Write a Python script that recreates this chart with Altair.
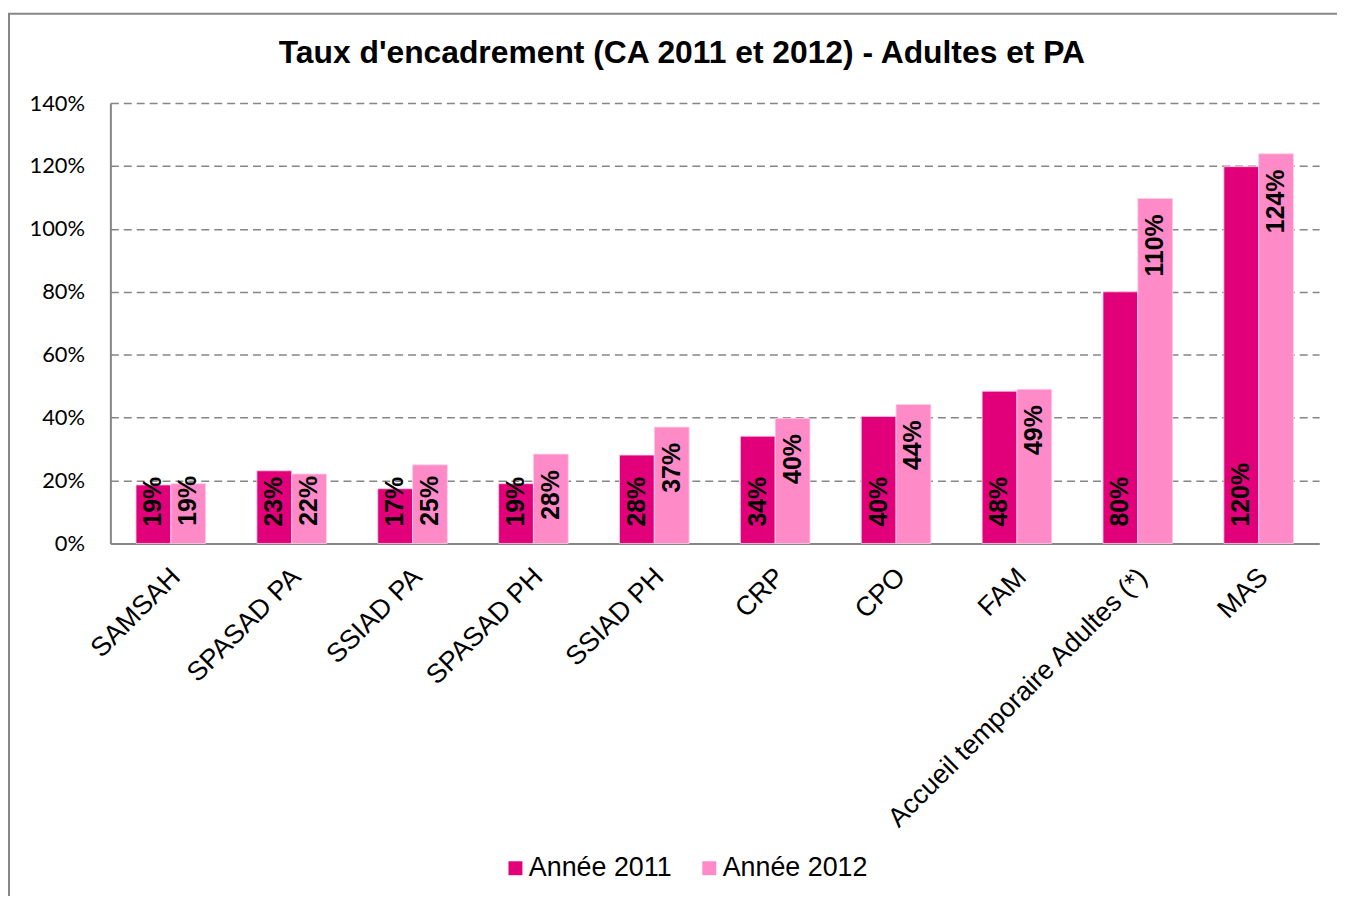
import altair as alt
import pandas as pd

categories = ["SAMSAH", "SPASAD PA", "SSIAD PA", "SPASAD PH", "SSIAD PH",
              "CRP", "CPO", "FAM", "Accueil temporaire Adultes (*)", "MAS"]
values_2011 = [0.186, 0.231, 0.174, 0.190, 0.281, 0.341, 0.404, 0.484, 0.800, 1.198]
values_2012 = [0.190, 0.221, 0.250, 0.284, 0.370, 0.398, 0.442, 0.490, 1.097, 1.239]
series = ["Année 2011", "Année 2012"]
colors = ["#E2007A", "#FF8AC8"]
y_ticks = [0, 0.2, 0.4, 0.6, 0.8, 1.0, 1.2, 1.4]
title_text = "Taux d'encadrement (CA 2011 et 2012) - Adultes et PA"

rows = []
for c, v in zip(categories, values_2011):
    rows.append({"cat": c, "serie": series[0], "value": v})
for c, v in zip(categories, values_2012):
    rows.append({"cat": c, "serie": series[1], "value": v})
df = pd.DataFrame(rows)

W, H = 1216, 443
GREY = "#868686"

x_enc = alt.X("cat:N", sort=categories,
              scale=alt.Scale(paddingInner=0.424, paddingOuter=0.212),
              axis=alt.Axis(title=None, labelAngle=-45, labelFont="Liberation Sans",
                            labelFontSize=27, labelColor="black", labelLimit=1000,
                            labelPadding=20, labelOffset=-4, ticks=False, domain=True,
                            domainColor=GREY, domainWidth=2, grid=False))
xo_enc = alt.XOffset("serie:N", sort=series, scale=alt.Scale(paddingInner=0, paddingOuter=0))
y_scale = alt.Scale(domain=[0, 1.4], nice=False, zero=True)

base = alt.Chart(df)

bars = base.mark_bar(stroke="#FFD0E8", strokeWidth=0.8).encode(
    x=x_enc,
    xOffset=xo_enc,
    y=alt.Y("value:Q", scale=y_scale,
            axis=alt.Axis(title=None, values=y_ticks, format=".0%", grid=True,
                          gridDash=[8, 5], gridColor=GREY, gridWidth=1.5,
                          ticks=False, domain=True, domainColor=GREY, domainWidth=2,
                          labelFont="Lato", labelFontSize=22, labelColor="black",
                          labelPadding=26)),
    color=alt.Color("serie:N", scale=alt.Scale(domain=series, range=colors),
                    legend=alt.Legend(title=None, orient="none", legendX=394, legendY=756,
                                      direction="horizontal", symbolType="square",
                                      symbolSize=196, symbolStrokeWidth=0,
                                      labelFont="Liberation Sans", labelFontSize=27,
                                      labelColor="black", labelOffset=0,
                                      columnPadding=24, padding=0, labelLimit=400)),
)

lab_font = dict(font="Liberation Sans", fontWeight="bold", fontSize=25, color="black",
                angle=270, baseline="middle")

labels_2011 = base.transform_filter(
    alt.datum.serie == series[0]
).mark_text(align="left", dx=17, **lab_font).encode(
    x=alt.X("cat:N", sort=categories),
    xOffset=alt.XOffset("serie:N", sort=series),
    y=alt.datum(0),
    text=alt.Text("value:Q", format=".0%"),
)

labels_2012 = base.transform_filter(
    alt.datum.serie == series[1]
).transform_calculate(
    ypos="max(datum.value, 0.265)"
).mark_text(align="right", dx=-16, **lab_font).encode(
    x=alt.X("cat:N", sort=categories),
    xOffset=alt.XOffset("serie:N", sort=series),
    y=alt.Y("ypos:Q"),
    text=alt.Text("value:Q", format=".0%"),
)

border = alt.Chart(alt.Data(values=[{"a": 1}])).mark_rect(
    fill="transparent", stroke=GREY, strokeWidth=2
).encode(
    x=alt.value(-102), x2=alt.value(1400), y=alt.value(-90), y2=alt.value(1000)
)

chart = alt.layer(border, bars, labels_2011, labels_2012).properties(
    width=W, height=H,
    title=alt.TitleParams(title_text, font="Liberation Sans", fontSize=32,
                          fontWeight="bold", color="black", anchor="middle",
                          baseline="alphabetic", dx=-33, offset=-83),
    autosize=alt.AutoSizeParams(type="none"),
    padding={"left": 103, "top": 93, "right": 18, "bottom": 352},
).configure_view(stroke=None)

chart.save("out.html", embed_options={"renderer": "svg", "actions": False})
